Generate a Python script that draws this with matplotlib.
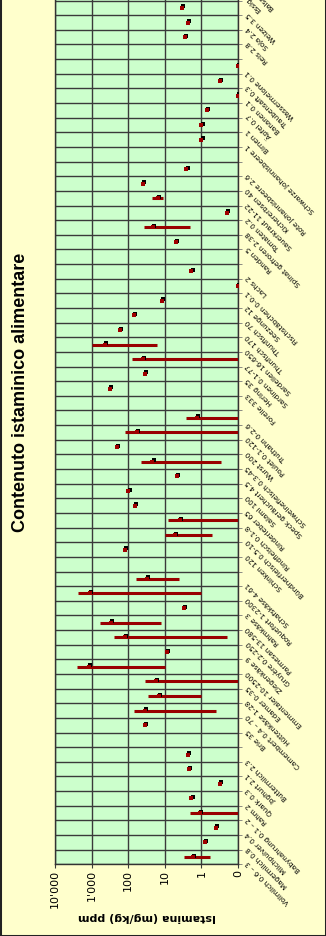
import numpy as np
import matplotlib
matplotlib.use('Agg')
import matplotlib.pyplot as plt
from matplotlib.ticker import NullLocator, FixedLocator
from matplotlib.transforms import ScaledTranslation
from matplotlib.patches import Rectangle

nan = np.nan

# categories, first = bottom row, '' = empty separator row
labels = [
    'Vollmilch 0.6 – 3', 'Magermilch 0.8', 'Milchpulver 0.4', 'Babynahrung 0.1 – 2',
    'Rahm 2', 'Quark 0.3', 'Joghurt 2.1', 'Buttermilch 2.3', '',
    'Brie 35', 'Camembert 0.4 – 70', 'Hüttenkäse 1-28', 'Edamer 0-35',
    'Emmentaler 10-2500', 'Ziegenkäse 9', 'Gruyère 0.2-250', 'Parmesan 13-580',
    'Rahmkäse 3', 'Roquefort 1-2300', 'Schafskäse 4-61', '',
    'Schinken 120', 'Bündnerfleisch 0.5-10', 'Rindfleisch 0.1-8', 'Rinderleber 65',
    'Salami 100', 'Speck geräuchert 4.5', 'Schweinefleisch 0.3-45', 'Wurst 200',
    'Poulet 0.1-120', 'Truthahn 0-2.6', '',
    'Forelle 333', 'Hering 35', 'Sardinen 0.1-77', 'Sardellen 16-650',
    'Thunfisch 170', 'Thunfisch 70', 'Seezunge 12', 'Fischstäbchen 0-0.1', 'Lachs 2', '',
    'Randen 5', 'Spinat gefroren 2-38', 'Tomaten 0.2', 'Sauerkraut 11-22',
    'Kichererbsen 40', 'Rote Johannisbeere 2.6', '',
    'Schwarze Johannisbeere 1', 'Birnen 1', 'Äpfel 0.7', 'Bananen 0.1',
    'Traubensaft 0.3', 'Wassermelone 0.1', '',
    'Reis 2.8', 'Soja 2.4', 'Weizen 3.5', 'Essig', 'Balsamico',
]

# histamine, mg/kg (marker)
values = [
    1.7, 0.81, 0.41, 1.1, 1.9, 0.32, 2.2, 2.35, nan,
    35, 35, 14.5, 17.5, 1180, 8.8, 123, 295, 3.0, 1120, 31, nan,
    123, 5.3, 3.9, 66, 100, 4.7, 22, 204, 58, 1.34, nan,
    316, 35, 40, 430, 170, 70, 12, 0.1, 1.9, nan,
    5.0, 21, 0.2, 15.5, 40, 2.6, nan,
    1.0, 1.0, 0.71, 0.1, 0.32, 0.1, nan,
    2.8, 2.35, 3.4, nan, nan,
]

# range min / max (bars)
range_lo = [
    0.6, nan, nan, 0.1, nan, nan, nan, nan, nan,
    nan, 0.4, 1, 0.1, 10, nan, 0.2, 13, nan, 1, 4, nan,
    nan, 0.5, 0.1, nan, nan, nan, 0.3, nan, 0.1, 0.1, nan,
    nan, nan, 0.1, 16, nan, nan, nan, nan, nan, nan,
    nan, 2, nan, 11, nan, nan, nan,
    nan, nan, nan, nan, nan, nan, nan,
    nan, nan, nan, nan, nan,
]
range_hi = [
    3, nan, nan, 2, nan, nan, nan, nan, nan,
    nan, 70, 28, 35, 2500, nan, 250, 580, nan, 2300, 61, nan,
    nan, 10, 8, nan, nan, nan, 45, nan, 120, 2.6, nan,
    nan, nan, 77, 950, nan, nan, nan, nan, nan, nan,
    nan, 38, nan, 22, nan, nan, nan,
    nan, nan, nan, nan, nan, nan, nan,
    nan, nan, nan, nan, nan,
]

x_ticks = [0.1, 1, 10, 100, 1000, 10000]
x_ticklabels = ['0', '1', '10', '100', "1'000", "10'000"]

W, H = 326, 936
fig = plt.figure(figsize=(W / 100, H / 100), dpi=100)
fig.patch.set_facecolor('#FFFFCC')

# plot area runs past the top edge of the picture
ax = fig.add_axes([55 / W, 71.7 / H, 183 / W, 893 / H])
ax.set_facecolor('#CCFFCC')

n = len(labels)
y = np.arange(n)
vals = np.array(values, dtype=float)
lo = np.array(range_lo, dtype=float)
hi = np.array(range_hi, dtype=float)

ax.set_xscale('log')
ax.set_xlim(10000, 0.1)
ax.set_ylim(-0.5, n - 0.5)

grid_col = '#3a3a3a'
ax.xaxis.set_major_locator(FixedLocator(x_ticks))
ax.xaxis.set_minor_locator(NullLocator())
ax.set_xticklabels(x_ticklabels, rotation=90, va='top', ha='center', fontsize=8)
ax.tick_params(axis='x', which='major', length=3, pad=1, color=grid_col)

ax.set_yticks(y)
ax.set_yticklabels([])
ax.yaxis.set_minor_locator(FixedLocator(np.arange(-0.5, n, 1.0)))
ax.tick_params(axis='y', which='major', length=0, left=False, right=False)
ax.tick_params(axis='y', which='minor', length=3, left=False, right=True,
               color='#777777')

ax.grid(axis='x', which='major', color=grid_col, lw=1.0)
ax.grid(axis='y', which='minor', color=grid_col, lw=1.0)
ax.set_axisbelow(True)
for s in ax.spines.values():
    s.set_color('#333333')
    s.set_linewidth(1.0)

# range bars
m = ~np.isnan(lo)
ax.hlines(y[m], lo[m], hi[m], color='#990000', lw=2.2, zorder=3)

# points: black square with red square on top, slightly offset
px = 1 / 100
shift = ScaledTranslation(1.4 * px, 1.4 * px, fig.dpi_scale_trans)
ax.plot(vals, y, 's', color='black', ms=3.0, mew=0, zorder=4,
        transform=ax.transData + shift)
ax.plot(vals, y, 's', color='#A00000', ms=3.0, mew=0, zorder=5)

# category labels on the right side, slanted
lab_trans = ax.get_yaxis_transform() + ScaledTranslation(9 * px, -5 * px, fig.dpi_scale_trans)
for i, lab in enumerate(labels):
    ax.text(1.0, i, lab, transform=lab_trans, rotation=135, rotation_mode='anchor',
            ha='right', va='center', fontsize=5.2, color='black', clip_on=False)

fig.text(21 / W, 1 - 392 / H, 'Contenuto istaminico alimentare', rotation=90,
         ha='center', va='center', fontsize=13, fontweight='bold',
         family=['Liberation Sans', 'DejaVu Sans'])
fig.text(146.5 / W, 1 - 917 / H, 'Istamina (mg/kg) ppm', rotation=180,
         ha='center', va='center', fontsize=8, fontweight='bold')

frame = Rectangle((0, 0), 1, 1.2, transform=fig.transFigure, fill=False,
                  ec='#222222', lw=2.2, clip_on=False)
fig.add_artist(frame)

fig.savefig('out.png', dpi=100, facecolor=fig.get_facecolor())
